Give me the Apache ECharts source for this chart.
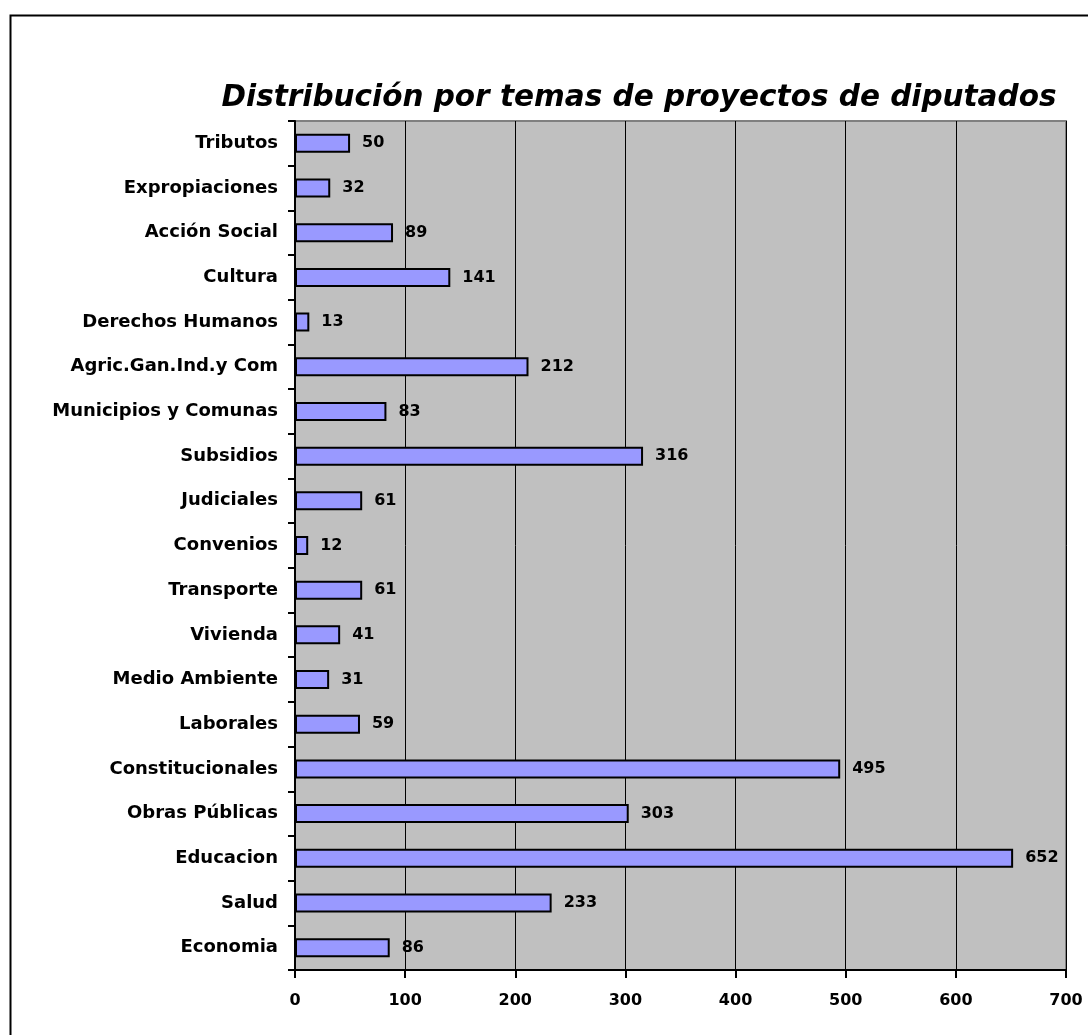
<!DOCTYPE html>
<html><head><meta charset="utf-8">
<script src="https://cdn.jsdelivr.net/npm/echarts@6/dist/echarts.min.js"></script>
<style>html,body{margin:0;padding:0;background:#fff}#c{width:1088px;height:1035px}</style>
</head><body><div id="c"></div>
<script>
const categories = ["Tributos","Expropiaciones","Acción Social","Cultura","Derechos Humanos","Agric.Gan.Ind.y Com","Municipios y Comunas","Subsidios","Judiciales","Convenios","Transporte","Vivienda","Medio Ambiente","Laborales","Constitucionales","Obras Públicas","Educacion","Salud","Economia"];
const values = [50,32,89,141,13,212,83,316,61,12,61,41,31,59,495,303,652,233,86];
const xTicks = [0,100,200,300,400,500,600,700];
const FONT = '"DejaVu Sans", "Liberation Sans", Arial, sans-serif';
const chart = echarts.init(document.getElementById('c'));
chart.setOption({
  animation:false,
  backgroundColor:'#fff',
  title:{text:'Distribución por temas de proyectos de diputados',left:634,textAlign:'center',top:78,
    textStyle:{fontFamily:FONT,fontSize:29.5,fontWeight:'bold',fontStyle:'italic',color:'#000'}},
  graphic:[{type:'rect',left:8,top:13,shape:{x:0,y:0,width:2000,height:2000},style:{fill:'none',stroke:'#000',lineWidth:2},silent:true,z:-1}],
  grid:{left:295,right:22,top:121,bottom:65,show:true,backgroundColor:'#C0C0C0',borderColor:'#808080',borderWidth:2,containLabel:false},
  xAxis:{type:'value',min:0,max:700,interval:100,
    axisLine:{show:true,lineStyle:{color:'#000',width:2}},
    axisTick:{show:true,length:8,lineStyle:{color:'#000',width:2}},
    splitLine:{show:true,lineStyle:{color:'#000',width:1}},
    axisLabel:{fontFamily:FONT,fontSize:16,fontWeight:'bold',color:'#000',margin:23,
      formatter:v=>xTicks.includes(v)?String(v):''}},
  yAxis:{type:'category',data:categories,inverse:true,
    axisLine:{show:true,lineStyle:{color:'#000',width:2}},
    axisTick:{show:true,length:7,lineStyle:{color:'#000',width:2}},
    axisLabel:{fontFamily:FONT,fontSize:18,fontWeight:'bold',color:'#000',margin:17}},
  series:[{type:'bar',data:values,barWidth:19,
    itemStyle:{color:'#9999FF',borderColor:'#000',borderWidth:2},
    label:{show:true,position:'right',distance:12,fontFamily:FONT,fontSize:16,fontWeight:'bold',color:'#000'}}]
});
</script></body></html>
